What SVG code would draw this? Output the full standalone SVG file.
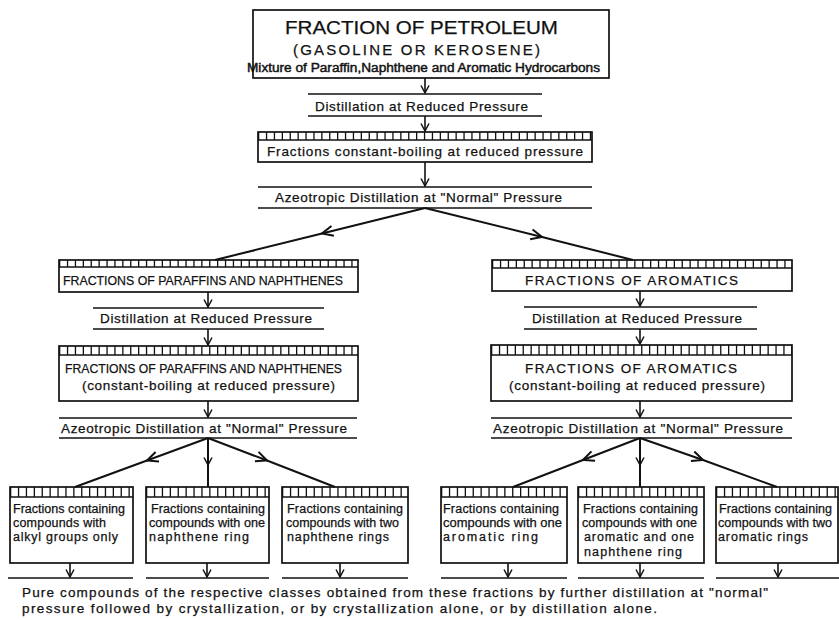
<svg xmlns="http://www.w3.org/2000/svg" width="839" height="620" viewBox="0 0 839 620">
<style>
text{font-family:"Liberation Sans","DejaVu Sans",sans-serif;fill:#111;stroke:#111;stroke-width:0.25;}
.t{font-size:13.5px;}
.s{font-size:12.5px;}
.box{fill:none;stroke:#111;stroke-width:1.7;}
.hl{stroke:#111;stroke-width:1.7;}
.hatch{stroke:#111;stroke-dasharray:1.3 6.6;}
.c{fill:none;stroke:#111;stroke-width:2;}
.v{fill:none;stroke:#111;stroke-width:1.6;marker-end:url(#ah);}
.m{marker-mid:url(#am);}
</style>
<defs>
<marker id="ah" viewBox="-1 -5 10 10" refX="7.5" refY="0" markerWidth="10" markerHeight="10" markerUnits="userSpaceOnUse" orient="auto">
<path d="M0,-4 L7.5,0 L0,4" fill="none" stroke="#111" stroke-width="1.5"/>
</marker>
<marker id="am" viewBox="-1 -7 14 14" refX="11" refY="0" markerWidth="14" markerHeight="14" markerUnits="userSpaceOnUse" orient="auto">
<path d="M0,-5 L11,0 L0,5" fill="none" stroke="#111" stroke-width="2"/>
</marker>
</defs>
<rect width="839" height="620" fill="#fff"/>

<g id="connectors">
<path class="v" d="M425,78 V93"/>
<path class="v" d="M425,116 V131"/>
<path class="v" d="M425,162 V186"/>
<path class="c m" d="M425,208 L322,233.5 L215,260"/>
<path class="c m" d="M425,208 L542,237 L633,260"/>
<path class="v" d="M208,292 V307"/>
<path class="v" d="M208,329 V345"/>
<path class="v" d="M208,401 V417"/>
<path class="v" d="M640,291 V306"/>
<path class="v" d="M640,329 V344"/>
<path class="v" d="M640,401 V417"/>
<path class="c m" d="M208,438 L147,460.5 L75,487"/>
<path class="c" d="M208,438 V487"/>
<path class="v" d="M208,440 V465"/>
<path class="c m" d="M208,438 L267,460.5 L335,487"/>
<path class="c m" d="M640,438 L583,460 L513,487"/>
<path class="c" d="M640,438 V487"/>
<path class="v" d="M640,440 V465"/>
<path class="c m" d="M640,438 L703,460 L777,487"/>
<path class="v" d="M70,563 V577"/>
<path class="v" d="M207,563 V577"/>
<path class="v" d="M340,563 V577"/>
<path class="v" d="M508,563 V577"/>
<path class="v" d="M640,563 V577"/>
<path class="v" d="M778,563 V577"/>
</g>

<g id="n-petroleum">
<rect class="box" x="253" y="10" width="356" height="68"/>
<text x="285" y="34" font-size="19" textLength="273" lengthAdjust="spacingAndGlyphs">FRACTION OF PETROLEUM</text>
<text x="293" y="55" font-size="15" textLength="247" lengthAdjust="spacing">(GASOLINE OR KEROSENE)</text>
<text x="247" y="72" font-size="12.5" textLength="353" lengthAdjust="spacingAndGlyphs" style="stroke-width:0.45">Mixture of Paraffin,Naphthene and Aromatic Hydrocarbons</text>
</g>

<g id="n-dist1">
<line class="hl" x1="308" y1="94" x2="542" y2="94"/>
<line class="hl" x1="308" y1="116" x2="542" y2="116"/>
<text class="t" x="315" y="111" textLength="213" lengthAdjust="spacing">Distillation at Reduced Pressure</text>
</g>

<g id="n-constant">
<line class="hatch" x1="258" y1="136" x2="592" y2="136" stroke-width="8"/>
<line class="hl" x1="258" y1="140" x2="592" y2="140"/>
<rect class="box" x="258" y="132" width="334" height="30"/>
<text class="t" x="267" y="156" textLength="316" lengthAdjust="spacing">Fractions constant-boiling at reduced pressure</text>
</g>

<g id="n-azeo1">
<line class="hl" x1="258" y1="187" x2="592" y2="187"/>
<line class="hl" x1="258" y1="208" x2="592" y2="208"/>
<text class="t" x="275" y="202" textLength="287" lengthAdjust="spacing">Azeotropic Distillation at "Normal" Pressure</text>
</g>

<g id="n-paraffins">
<line class="hatch" x1="59" y1="263.5" x2="358" y2="263.5" stroke-width="7"/>
<line class="hl" x1="59" y1="267" x2="358" y2="267"/>
<rect class="box" x="59" y="260" width="299" height="32"/>
<text class="t" x="63" y="285" textLength="280" lengthAdjust="spacingAndGlyphs">FRACTIONS OF PARAFFINS AND NAPHTHENES</text>
</g>

<g id="n-dist-left">
<line class="hl" x1="93" y1="308" x2="324" y2="308"/>
<line class="hl" x1="93" y1="329" x2="324" y2="329"/>
<text class="t" x="100" y="323" textLength="212" lengthAdjust="spacing">Distillation at Reduced Pressure</text>
</g>

<g id="n-paraffins2">
<line class="hatch" x1="59" y1="350.5" x2="358" y2="350.5" stroke-width="9"/>
<line class="hl" x1="59" y1="355" x2="358" y2="355"/>
<rect class="box" x="59" y="346" width="299" height="55"/>
<text class="t" x="65" y="373" textLength="277" lengthAdjust="spacingAndGlyphs">FRACTIONS OF PARAFFINS AND NAPHTHENES</text>
<text class="t" x="82" y="390" textLength="253" lengthAdjust="spacing">(constant-boiling at reduced pressure)</text>
</g>

<g id="n-azeo-left">
<line class="hl" x1="59" y1="418" x2="357" y2="418"/>
<line class="hl" x1="59" y1="438" x2="357" y2="438"/>
<text class="t" x="61" y="433" textLength="286" lengthAdjust="spacing">Azeotropic Distillation at "Normal" Pressure</text>
</g>

<g id="n-aromatics">
<line class="hatch" x1="492" y1="264" x2="792" y2="264" stroke-width="8"/>
<line class="hl" x1="492" y1="268" x2="792" y2="268"/>
<rect class="box" x="492" y="260" width="300" height="31"/>
<text class="t" x="525" y="285" textLength="213" lengthAdjust="spacing">FRACTIONS OF AROMATICS</text>
</g>

<g id="n-dist-right">
<line class="hl" x1="524" y1="307" x2="757" y2="307"/>
<line class="hl" x1="524" y1="329" x2="757" y2="329"/>
<text class="t" x="532" y="323" textLength="210" lengthAdjust="spacing">Distillation at Reduced Pressure</text>
</g>

<g id="n-aromatics2">
<line class="hatch" x1="491" y1="350" x2="792" y2="350" stroke-width="10"/>
<line class="hl" x1="491" y1="355" x2="792" y2="355"/>
<rect class="box" x="491" y="345" width="301" height="56"/>
<text class="t" x="525" y="373" textLength="212" lengthAdjust="spacing">FRACTIONS OF AROMATICS</text>
<text class="t" x="509" y="390" textLength="256" lengthAdjust="spacing">(constant-boiling at reduced pressure)</text>
</g>

<g id="n-azeo-right">
<line class="hl" x1="491" y1="418" x2="792" y2="418"/>
<line class="hl" x1="491" y1="438" x2="792" y2="438"/>
<text class="t" x="493" y="433" textLength="290" lengthAdjust="spacing">Azeotropic Distillation at "Normal" Pressure</text>
</g>

<g id="n-alkyl">
<line class="hatch" x1="10" y1="492" x2="133" y2="492" stroke-width="10"/>
<line class="hl" x1="10" y1="497" x2="133" y2="497"/>
<rect class="box" x="10" y="487" width="123" height="76"/>
<text class="s" x="13" y="513" textLength="112" lengthAdjust="spacing">Fractions containing</text>
<text class="s" x="13" y="527" textLength="93" lengthAdjust="spacing">compounds with</text>
<text class="s" x="13" y="541" textLength="105" lengthAdjust="spacing">alkyl groups only</text>
<line class="hl" x1="8" y1="578" x2="133" y2="578"/>
</g>

<g id="n-one-naphthene">
<line class="hatch" x1="146" y1="492" x2="269" y2="492" stroke-width="10"/>
<line class="hl" x1="146" y1="497" x2="269" y2="497"/>
<rect class="box" x="146" y="487" width="123" height="76"/>
<text class="s" x="151" y="513" textLength="114" lengthAdjust="spacing">Fractions containing</text>
<text class="s" x="149" y="527" textLength="116" lengthAdjust="spacingAndGlyphs">compounds with one</text>
<text class="s" x="149" y="541" textLength="100" lengthAdjust="spacing">naphthene ring</text>
<line class="hl" x1="146" y1="578" x2="269" y2="578"/>
</g>

<g id="n-two-naphthene">
<line class="hatch" x1="282" y1="492" x2="408" y2="492" stroke-width="10"/>
<line class="hl" x1="282" y1="497" x2="408" y2="497"/>
<rect class="box" x="282" y="487" width="126" height="76"/>
<text class="s" x="287" y="513" textLength="116" lengthAdjust="spacing">Fractions containing</text>
<text class="s" x="286" y="527" textLength="113" lengthAdjust="spacingAndGlyphs">compounds with two</text>
<text class="s" x="287" y="541" textLength="102" lengthAdjust="spacing">naphthene rings</text>
<line class="hl" x1="282" y1="578" x2="408" y2="578"/>
</g>

<g id="n-one-aromatic">
<line class="hatch" x1="441" y1="492" x2="567" y2="492" stroke-width="10"/>
<line class="hl" x1="441" y1="497" x2="567" y2="497"/>
<rect class="box" x="441" y="487" width="126" height="76"/>
<text class="s" x="443" y="513" textLength="116" lengthAdjust="spacing">Fractions containing</text>
<text class="s" x="443" y="527" textLength="119" lengthAdjust="spacingAndGlyphs">compounds with one</text>
<text class="s" x="443" y="541" textLength="95" lengthAdjust="spacing">aromatic ring</text>
<line class="hl" x1="441" y1="578" x2="567" y2="578"/>
</g>

<g id="n-aromatic-naphthene">
<line class="hatch" x1="578" y1="492" x2="704" y2="492" stroke-width="10"/>
<line class="hl" x1="578" y1="497" x2="704" y2="497"/>
<rect class="box" x="578" y="487" width="126" height="76"/>
<text class="s" x="583" y="513" textLength="115" lengthAdjust="spacing">Fractions containing</text>
<text class="s" x="582" y="527" textLength="115" lengthAdjust="spacingAndGlyphs">compounds with one</text>
<text class="s" x="584" y="541" textLength="110" lengthAdjust="spacing">aromatic and one</text>
<text class="s" x="584" y="556" textLength="98" lengthAdjust="spacing">naphthene ring</text>
<line class="hl" x1="578" y1="578" x2="704" y2="578"/>
</g>

<g id="n-two-aromatic">
<line class="hatch" x1="716" y1="492" x2="838" y2="492" stroke-width="10"/>
<line class="hl" x1="716" y1="497" x2="838" y2="497"/>
<rect class="box" x="716" y="487" width="122" height="76"/>
<text class="s" x="719" y="513" textLength="113" lengthAdjust="spacing">Fractions containing</text>
<text class="s" x="718" y="527" textLength="114" lengthAdjust="spacingAndGlyphs">compounds with two</text>
<text class="s" x="718" y="541" textLength="90" lengthAdjust="spacing">aromatic rings</text>
<line class="hl" x1="716" y1="578" x2="839" y2="578"/>
</g>

<g id="n-pure">
<text class="t" x="22" y="597" textLength="746" lengthAdjust="spacing">Pure compounds of the respective classes obtained from these fractions by further distillation at "normal"</text>
<text class="t" x="22" y="613" textLength="635" lengthAdjust="spacing">pressure followed by crystallization, or by crystallization alone, or by distillation alone.</text>
</g>
</svg>
